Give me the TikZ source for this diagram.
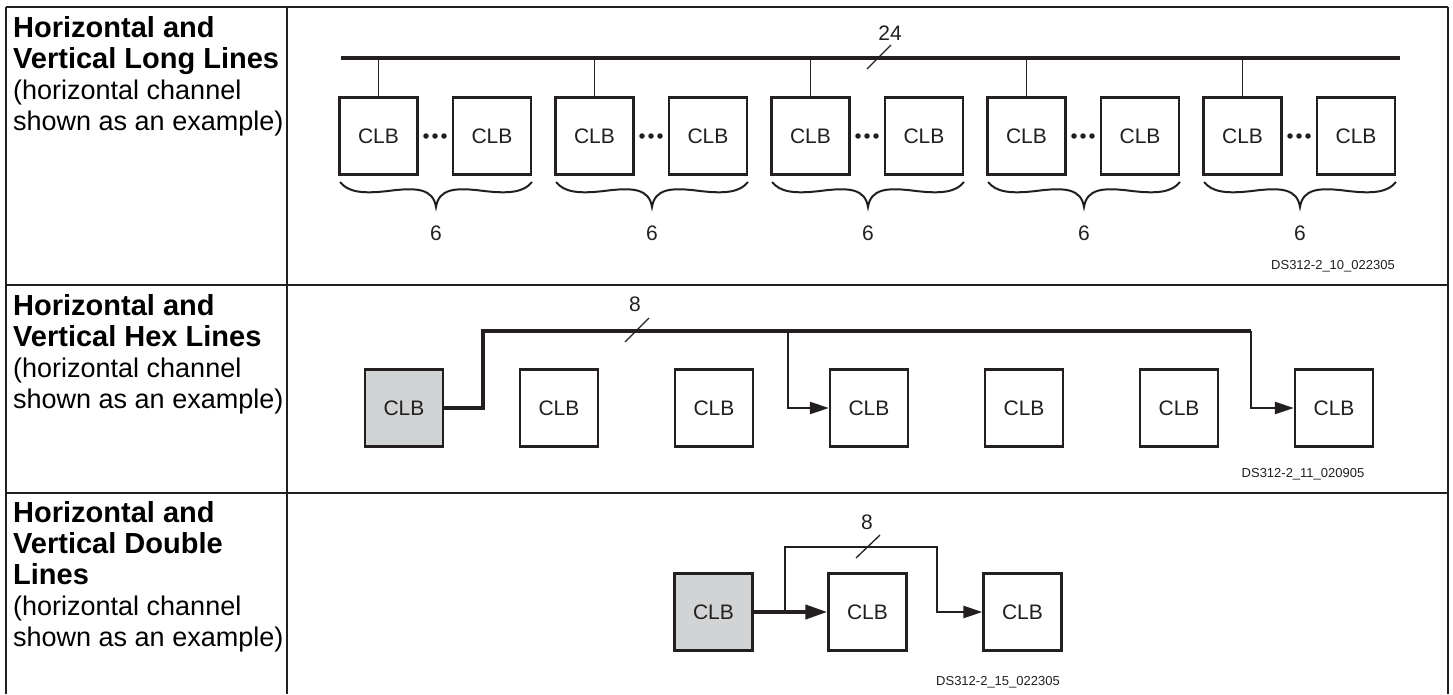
\documentclass[tikz,border=0pt]{standalone}
\usepackage{fontspec}
\setmainfont{Liberation Sans}
\usetikzlibrary{arrows.meta}
\definecolor{ink}{HTML}{231F20}
\definecolor{clbgray}{HTML}{D1D3D4}
\begin{document}
\begin{tikzpicture}[x=1pt,y=-1pt,
  clb/.style={draw=ink, line width=2.3pt, minimum width=78pt, minimum height=77pt, inner sep=0pt, fill=white, text=ink, font=\fontsize{21}{25}\selectfont},
  src/.style={clb, fill=clbgray},
  grid/.style={draw=ink, line width=2.5pt},
  bus/.style={draw=ink, line width=4pt},
  tap/.style={draw=ink, line width=1.3pt},
  branch/.style={draw=ink, line width=2.5pt},
  tip/.style={-{Triangle[length=19pt,width=12pt]}},
  bigtip/.style={-{Triangle[length=22pt,width=14pt]}},
  num/.style={text=ink, font=\fontsize{21}{25}\selectfont, inner sep=0pt},
  tag/.style={text=ink, font=\fontsize{13}{15}\selectfont, inner sep=0pt},
  head/.style={anchor=base west, inner sep=0pt, text=black, font=\fontsize{29}{31}\selectfont\bfseries},
  sub/.style={anchor=base west, inner sep=0pt, text=black, font=\fontsize{27}{31}\selectfont},
  slash/.style={draw=ink, line width=1.3pt},
  dot/.style={circle, fill=ink, minimum size=5.5pt, inner sep=0pt},
  bracecurve/.style={draw=ink, line width=2pt}
]
\useasboundingbox (0,0) rectangle (1453,694);

% ---------- table grid ----------
\draw[grid] (6,7) -- (1448,7);
\draw[grid] (6,285) -- (1448,285);
\draw[grid] (6,493) -- (1448,493);
\draw[grid] (6,7) -- (6,694);
\draw[grid] (287,7) -- (287,694);
\draw[grid] (1448,7) -- (1448,694);

% ---------- left column texts ----------
\node[head] (t1a) at (13,37) {Horizontal and};
\node[head] (t1b) at (13,68) {Vertical Long Lines};
\node[sub]  (t1c) at (13,99) {(horizontal channel};
\node[sub]  (t1d) at (13,130) {shown as an example)};

\node[head] (t2a) at (13,315) {Horizontal and};
\node[head] (t2b) at (13,346) {Vertical Hex Lines};
\node[sub]  (t2c) at (13,377) {(horizontal channel};
\node[sub]  (t2d) at (13,408) {shown as an example)};

\node[head] (t3a) at (13,522) {Horizontal and};
\node[head] (t3b) at (13,553) {Vertical Double};
\node[head] (t3c) at (13,584) {Lines};
\node[sub]  (t3d) at (13,615) {(horizontal channel};
\node[sub]  (t3e) at (13,646) {shown as an example)};

% ---------- row 1: long lines ----------
\coordinate (busL) at (341,58);
\coordinate (busR) at (1400,58);
\draw[bus] (busL) -- (busR);
\draw[slash] (867,69) -- (891,45);
\node[num] (lab24) at (890,33) {24};

\foreach \k in {0,...,4} {
  \pgfmathsetmacro\xo{340+216*\k}
  \node[clb] (A\k) at (\xo+38.5,136) {CLB};
  \node[clb] (B\k) at (\xo+152,136) {CLB};
  \draw[tap] (A\k.north) -- (A\k.north |- busL);
  \node[dot] (da\k) at (\xo+86,136) {};
  \node[dot] (db\k) at (\xo+95,136) {};
  \node[dot] (dc\k) at (\xo+104,136) {};
  \draw[bracecurve] (\xo,182) .. controls (\xo+8,192) and (\xo+22,194) .. (\xo+48,191)
     .. controls (\xo+78,187) and (\xo+93,189) .. (\xo+96,207)
     .. controls (\xo+99,189) and (\xo+114,187) .. (\xo+144,191)
     .. controls (\xo+170,194) and (\xo+184,192) .. (\xo+192,182);
  \node[num] (six\k) at (\xo+96,233) {6};
}
\node[tag] (id1) at (1333,266) {DS312-2\_10\_022305};

% ---------- row 2: hex lines ----------
\node[src] (h1) at (404,408) {CLB};
\node[clb] (h2) at (559,408) {CLB};
\node[clb] (h3) at (714,408) {CLB};
\node[clb] (h4) at (869,408) {CLB};
\node[clb] (h5) at (1024,408) {CLB};
\node[clb] (h6) at (1179,408) {CLB};
\node[clb] (h7) at (1334,408) {CLB};
\coordinate (hj) at (483,331);
\coordinate (hb1) at (788,331);
\coordinate (hb2) at (1251,331);
\draw[branch,tip] (hb1) |- (h4.west);
\draw[branch,tip] (hb2) |- (h7.west);
\draw[bus] (h1.east) -| (hj) -- (hb2);
\draw[slash] (625,342) -- (649,318);
\node[num] (lab8a) at (635,304) {8};
\node[tag] (id2) at (1303,474) {DS312-2\_11\_020905};

% ---------- row 3: double lines ----------
\node[src] (d1) at (713.5,612) {CLB};
\node[clb] (d2) at (867.5,612) {CLB};
\node[clb] (d3) at (1022.5,612) {CLB};
\coordinate (dj) at (785,612);
\coordinate (dt) at (937,547);
\draw[branch,tip] (dj) |- (dt) |- (d3.west);
\draw[bus,bigtip] (d1.east) -- (d2.west);
\draw[slash] (856,558) -- (880,535);
\node[num] (lab8b) at (867,522) {8};
\node[tag] (id3) at (998,682) {DS312-2\_15\_022305};
\end{tikzpicture}
\end{document}
